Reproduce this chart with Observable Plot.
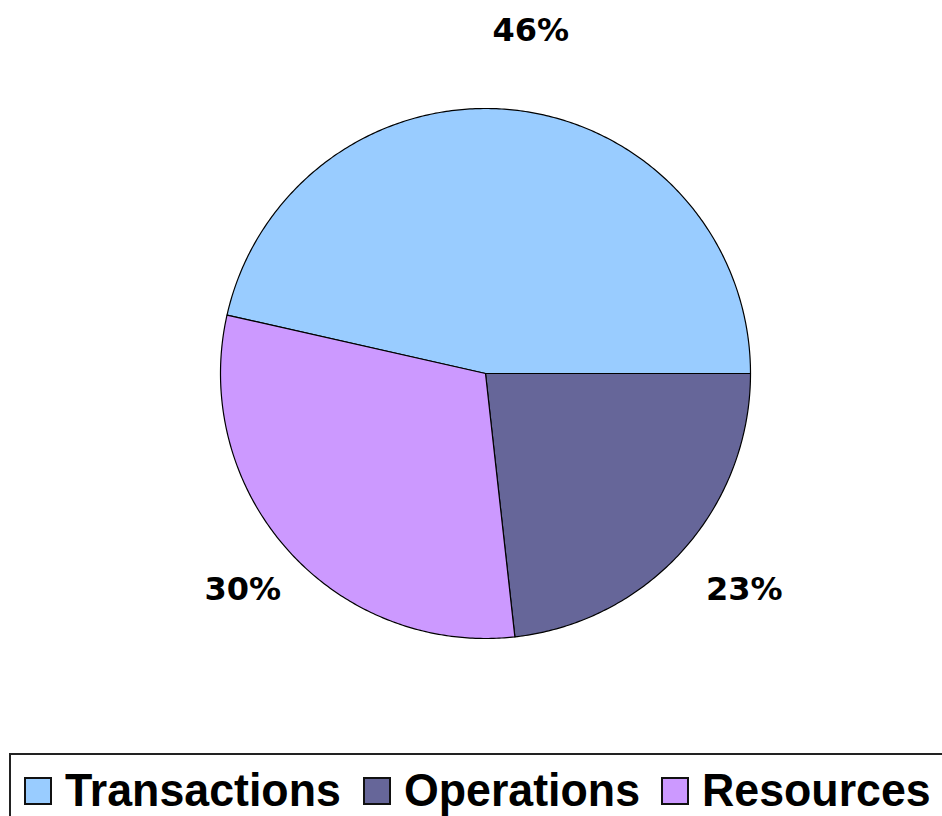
<!DOCTYPE html>
<html><head><meta charset="utf-8">
<script src="https://cdn.jsdelivr.net/npm/d3@7"></script>
<script src="https://cdn.jsdelivr.net/npm/@observablehq/plot@0.6"></script>
<style>
html,body{margin:0;padding:0;background:#fff}
body{width:942px;height:816px;overflow:hidden;position:relative}
#chart{position:absolute;left:0;top:0}
#legend{position:absolute;left:9px;top:753px;width:980px;height:100px;border:2px solid #222;box-sizing:border-box;
  display:flex;align-items:flex-start;padding:12px 0 0 13px;font-family:"Liberation Sans",Arial,sans-serif;font-weight:bold;font-size:46px;line-height:46px;color:#000;white-space:nowrap}
.item{display:flex;align-items:flex-start;margin-right:22px}
.sw{width:28px;height:28px;box-sizing:border-box;border:2px solid #111;margin-right:13px;margin-top:10px;flex:none}
.tx{display:inline-block;transform:scaleX(0.972);transform-origin:0 0}
</style></head><body>
<div id="chart"></div>
<div id="legend"></div>
<script>
const categories = ["Transactions", "Operations", "Resources"];
const values = [46, 23, 30];
const labels = ["46%", "23%", "30%"];
const colors = ["#99CCFF", "#666699", "#CC99FF"];

const total = d3.sum(values);
// slices run clockwise; the first ends at 3 o'clock
let a = 2 * Math.PI * values[0] / total;
const rows = [];
const labelRows = [];
const R = 1.27;
categories.forEach((cat, i) => {
  const span = 2 * Math.PI * values[i] / total;
  const a0 = a, a1 = a - span;
  const n = Math.max(2, Math.ceil(span / 0.01));
  rows.push({cat, x: 0, y: 0});
  for (let k = 0; k <= n; k++) {
    const t = a0 + (a1 - a0) * k / n;
    rows.push({cat, x: Math.cos(t), y: Math.sin(t)});
  }
  rows.push({cat, x: 0, y: 0});
  const mid = (a0 + a1) / 2;
  labelRows.push({cat, text: labels[i], x: R * Math.cos(mid), y: R * Math.sin(mid)});
  a = a1;
});

const chart = Plot.plot({
  width: 942,
  height: 745,
  marginLeft: 220,
  marginRight: 192,
  marginTop: 108,
  marginBottom: 107,
  x: {domain: [-1, 1], axis: null},
  y: {domain: [-1, 1], axis: null},
  color: {domain: categories, range: colors},
  style: {background: "#fff", overflow: "visible"},
  marks: [
    Plot.line(rows, {x: "x", y: "y", z: "cat", fill: "cat", stroke: "#000", strokeWidth: 1.2, curve: "linear", strokeLinejoin: "round"}),
    Plot.text(labelRows, {x: "x", y: "y", text: "text", dx: 8, dy: -8, fontSize: 32, fontWeight: "bold", fontFamily: "DejaVu Sans", fill: "#000"})
  ]
});
document.getElementById("chart").appendChild(chart);

const legend = document.getElementById("legend");
categories.forEach((cat, i) => {
  const item = document.createElement("div");
  item.className = "item";
  const sw = document.createElement("div");
  sw.className = "sw";
  sw.style.background = colors[i];
  const tx = document.createElement("span");
  tx.className = "tx";
  tx.textContent = cat;
  item.appendChild(sw);
  item.appendChild(tx);
  legend.appendChild(item);
  const scaled = tx.getBoundingClientRect().width;
  tx.style.marginRight = -(tx.offsetWidth - scaled) + "px";
});
</script>
</body></html>
